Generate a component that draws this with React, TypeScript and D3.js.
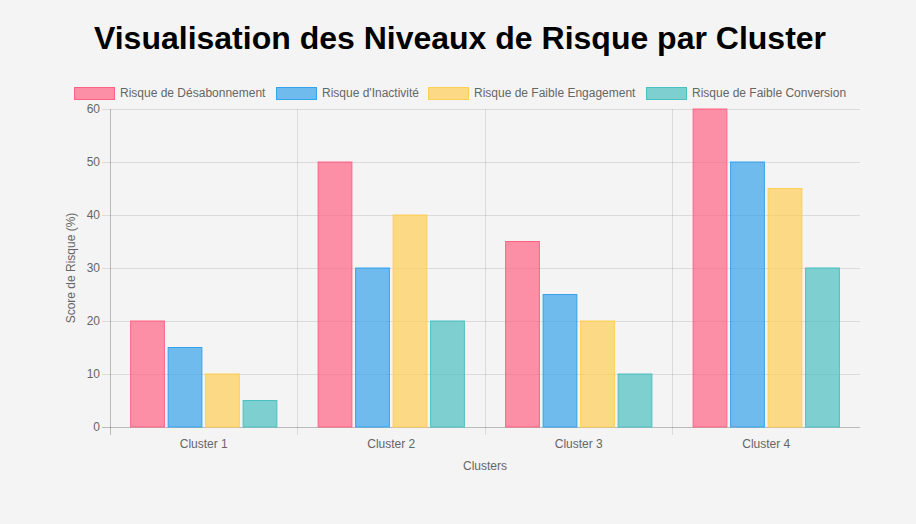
import React, { useEffect } from "react";
import * as d3 from "d3";

const categories = ["Cluster 1", "Cluster 2", "Cluster 3", "Cluster 4"];
const seriesNames = [
  "Risque de Désabonnement",
  "Risque d'Inactivité",
  "Risque de Faible Engagement",
  "Risque de Faible Conversion",
];
const churn = [20, 50, 35, 60];
const inactivity = [15, 30, 25, 50];
const engagement = [10, 40, 20, 45];
const conversion = [5, 20, 10, 30];
const yTicks = [0, 10, 20, 30, 40, 50, 60];
const colors = ["255,99,132", "54,162,235", "255,206,86", "75,192,192"];

const W = 916;
const H = 524;
const M = { left: 110, right: 860, top: 109, bottom: 427 };
const FONT = "'Liberation Sans', Arial, Helvetica, sans-serif";
const TXT = "#666";
const GRID = "rgba(0,0,0,0.1)";

export default function App() {
  useEffect(() => {
    document.body.style.margin = "0";
    document.body.style.background = "#f4f4f4";
  }, []);

  const series = [churn, inactivity, engagement, conversion];
  const x = d3.scaleBand<string>().domain(categories).range([M.left, M.right]).paddingInner(0).paddingOuter(0);
  const inner = d3
    .scaleBand<number>()
    .domain(d3.range(series.length))
    .range([0, x.bandwidth()])
    .paddingInner(0)
    .paddingOuter(0);
  const y = d3.scaleLinear().domain([0, 60]).range([M.bottom, M.top]);
  const catPct = 0.8;
  const barPct = 0.9;
  const groupW = x.bandwidth() * catPct;
  const slot = groupW / series.length;
  const barW = slot * barPct;

  const legendX = [74, 276, 428, 646];

  return (
    <svg width={W} height={H} style={{ display: "block", background: "#f4f4f4" }}>
      <rect x={0} y={0} width={W} height={H} fill="#f4f4f4" />
      <text x={460} y={49} textAnchor="middle" fontFamily={FONT} fontWeight="bold" fontSize={32} fill="#000">
        Visualisation des Niveaux de Risque par Cluster
      </text>
      {seriesNames.map((n, i) => (
        <g key={n}>
          <rect
            x={legendX[i] + 0.5}
            y={87.5}
            width={40}
            height={12}
            fill={`rgba(${colors[i]},0.7)`}
            stroke={`rgb(${colors[i]})`}
            strokeWidth={1}
          />
          <text x={legendX[i] + 46} y={97} fontFamily={FONT} fontSize={12} fill={TXT}>
            {n}
          </text>
        </g>
      ))}
      {yTicks.map((t) => (
        <g key={t}>
          <line x1={M.left - 8} x2={M.right} y1={Math.round(y(t)) + 0.5} y2={Math.round(y(t)) + 0.5} stroke={GRID} />
          <text x={M.left - 10} y={y(t) + 4} textAnchor="end" fontFamily={FONT} fontSize={12} fill={TXT}>
            {t}
          </text>
        </g>
      ))}
      {categories.map((c) => (
        <line
          key={c}
          x1={Math.floor(x(c)!) + 0.5}
          x2={Math.floor(x(c)!) + 0.5}
          y1={M.top}
          y2={M.bottom + 8}
          stroke={GRID}
        />
      ))}
      <line x1={M.left + 0.5} x2={M.left + 0.5} y1={M.top} y2={M.bottom + 8} stroke="rgba(0,0,0,0.15)" />
      <line x1={M.left - 8} x2={M.right} y1={M.bottom + 0.5} y2={M.bottom + 0.5} stroke="rgba(0,0,0,0.15)" />
      {series.map((s, si) =>
        s.map((v, ci) => {
          const x0 = x(categories[ci])! + (x.bandwidth() - groupW) / 2 + inner(si)! * (slot / inner.bandwidth()) + (slot - barW) / 2;
          return (
            <rect
              key={`${si}-${ci}`}
              x={x0}
              y={y(v)}
              width={barW}
              height={y(0) - y(v)}
              fill={`rgba(${colors[si]},0.7)`}
              stroke={`rgb(${colors[si]})`}
              strokeWidth={1}
            />
          );
        })
      )}
      {categories.map((c) => (
        <text key={c} x={x(c)! + x.bandwidth() / 2} y={448} textAnchor="middle" fontFamily={FONT} fontSize={12} fill={TXT}>
          {c}
        </text>
      ))}
      <text x={(M.left + M.right) / 2} y={470} textAnchor="middle" fontFamily={FONT} fontSize={12} fill={TXT}>
        Clusters
      </text>
      <text
        transform={`translate(75, ${(M.top + M.bottom) / 2}) rotate(-90)`}
        textAnchor="middle"
        fontFamily={FONT}
        fontSize={12}
        fill={TXT}
      >
        Score de Risque (%)
      </text>
    </svg>
  );
}
